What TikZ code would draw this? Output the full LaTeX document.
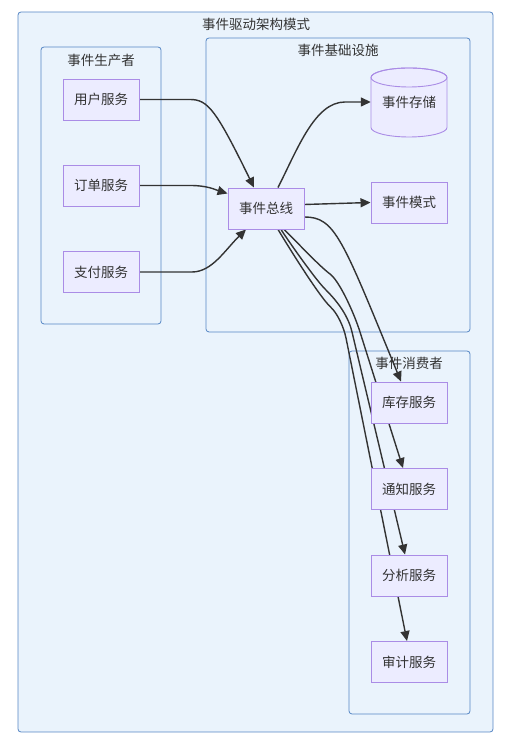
\documentclass[tikz,border=0pt]{standalone}
\usepackage{fontspec}
\setmainfont{Noto Sans CJK SC}
\usetikzlibrary{arrows.meta, positioning}
\definecolor{clusterFill}{RGB}{234,243,252}
\definecolor{clusterLine}{RGB}{86,134,196}
\definecolor{nodeFill}{RGB}{236,236,255}
\definecolor{nodeLine}{RGB}{170,140,230}
\definecolor{edgeGray}{RGB}{51,51,51}
\pgfdeclarelayer{clusters}
\pgfdeclarelayer{edges}
\pgfsetlayers{clusters,edges,main}

\begin{document}
\begin{tikzpicture}[x=1pt, y=1pt,
    every node/.style={font=\fontsize{13.5}{15}\selectfont, text=edgeGray},
    cluster/.style={draw=clusterLine, fill=clusterFill, line width=0.8pt, rounded corners=3pt},
    service/.style={draw=nodeLine, fill=nodeFill, line width=0.9pt, minimum width=76pt, minimum height=41pt, inner sep=0pt},
    flow/.style={draw=edgeGray, line width=1.4pt, -{Triangle[length=10pt, width=9pt]}}]
    \useasboundingbox (0,0) rectangle (511,738);
    % Clusters
    \begin{pgfonlayer}{clusters}
        \draw[cluster] (18,6) rectangle (493,726);
        \draw[cluster] (41,414) rectangle (161,691);
        \draw[cluster] (206,406) rectangle (470,700);
        \draw[cluster] (349,24) rectangle (470,387);
    \end{pgfonlayer}
    \node (titleMain) at (256,714) {事件驱动架构模式};
    \node (titleProd) at (101,678) {事件生产者};
    \node (titleInfra) at (338,688) {事件基础设施};
    \node (titleCons) at (409,375) {事件消费者};
    % Producers
    \foreach \n/\t/\y in {user/用户服务/638.5, order/订单服务/552.5, pay/支付服务/466}
        \node[service] (\n) at (101,\y) {\t};
    % Event bus and infrastructure
    \node[service] (bus) at (266,529.5) {事件总线};
    \node[service] (schema) at (409,535.5) {事件模式};
    \draw[draw=nodeLine, fill=nodeFill, line width=0.9pt] (371,660.5) -- (371,610.5)
        arc[start angle=180, end angle=360, x radius=38pt, y radius=9.5pt] -- (447,660.5)
        arc[start angle=0, end angle=180, x radius=38pt, y radius=9.5pt] -- cycle;
    \draw[draw=nodeLine, line width=0.9pt] (409,660.5) ellipse[x radius=38pt, y radius=9.5pt];
    \node[minimum width=76pt, minimum height=68pt, inner sep=0pt] (store) at (409,636) {事件存储};
    % Consumers
    \foreach \n/\t/\y in {stock/库存服务/335.5, notify/通知服务/249, analysis/分析服务/162.5, audit/审计服务/76}
        \node[service] (\n) at (409,\y) {\t};
    % Connectors
    \begin{pgfonlayer}{edges}
        \draw[flow] (user.east) -- (190,638.5) .. controls (208,638.5) and (216,628) .. ([xshift=-12pt]bus.north);
        \draw[flow] (order.east) -- (190,552.5) .. controls (208,552.5) and (216,548) .. ([yshift=15pt]bus.west);
        \draw[flow] (pay.east) -- (192,466) .. controls (212,466) and (225,488) .. ([xshift=-20pt]bus.south);
        \draw[flow] ([xshift=12pt]bus.north) .. controls (298,590) and (315,636) .. (345,636) -- (store.west);
        \draw[flow] ([yshift=4pt]bus.east) -- (schema.west);
        \draw[flow] ([yshift=-8.5pt]bus.east) .. controls (335,521) and (342,500) .. ([xshift=-8pt]stock.north);
        \draw[flow] ([xshift=18pt]bus.south) .. controls (298,495) and (318.8,472.4) .. (330,464)
            .. controls (339.6,456.8) and (354,425) .. (360,406) -- ([xshift=-6pt]notify.north);
        \draw[flow] ([xshift=15pt]bus.south) .. controls (287,499) and (315,459) .. (325,449)
            .. controls (333.4,440.6) and (347.4,425.5) .. (352,406) -- ([xshift=-4pt]analysis.north);
        \draw[flow] ([xshift=12pt]bus.south) .. controls (285.5,496) and (319.2,441.2) .. (331,430.5)
            .. controls (336.9,425.1) and (343.6,411.8) .. (346,400) -- ([xshift=-2pt]audit.north);
    \end{pgfonlayer}
\end{tikzpicture}
\end{document}
